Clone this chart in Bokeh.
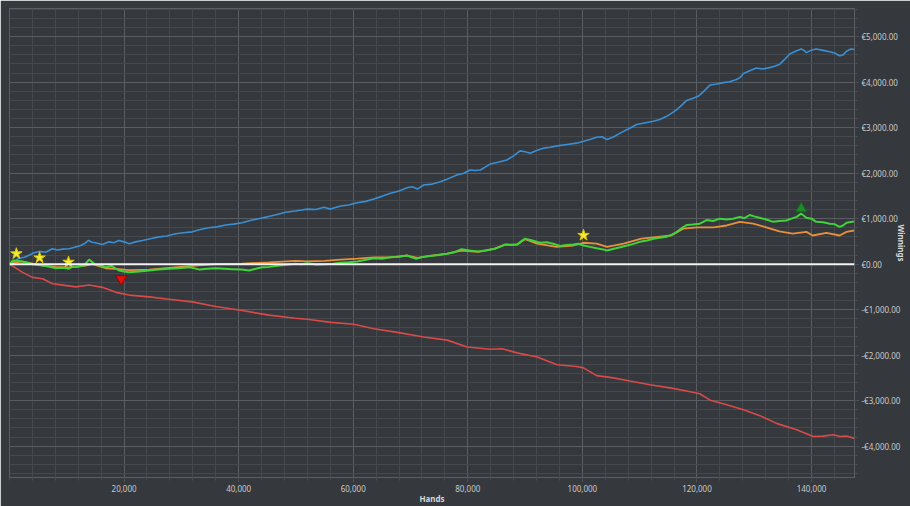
from bokeh.plotting import figure
from bokeh.models import (FixedTicker, NumeralTickFormatter, CustomJSTickFormatter,
                          Span, Range1d)
from bokeh.embed import file_html
from bokeh.resources import INLINE

# ---------------- data ----------------
blue_hands = [0, 800, 1700, 2600, 3500, 4300, 5200, 6300, 7500, 8300, 9300, 10400, 11400,
              12450, 13200, 13800, 14400, 15000, 16200, 17400, 18200, 19100, 20000, 20900,
              22000, 23200, 24600, 26100, 27500, 29000, 30400, 31900, 33300, 34800, 36200,
              37700, 39100, 40600, 42000, 43500, 45000, 46400, 48200, 49900, 51000, 52000,
              53500, 54900, 56000, 57800, 59200, 60700, 62200, 63600, 65000, 66500, 68000,
              69400, 70300, 71200, 72300, 73800, 75200, 76600, 78100, 79300, 80400, 81300,
              82200, 83900, 85300, 86800, 88000, 89100, 90000, 90900, 92000, 93200, 94400,
              95600, 97300, 99000, 100200, 101300, 102500, 103400, 104300, 105500, 106600,
              108000, 109500, 111000, 112400, 113500, 114700, 115600, 116500, 117400, 118200,
              119200, 120200, 121200, 122300, 123500, 124600, 125700, 126900, 127500, 128100,
              129200, 130400, 131500, 132700, 133500, 134400, 135300, 136200, 137200, 138200,
              138700, 139100, 139900, 140800, 142000, 143200, 144000, 144900, 145500, 146100,
              146900, 147500]
blue_won = [0, 60, 130, 150, 200, 250, 280, 260, 340, 310, 330, 340, 370,
            410, 460, 520, 480, 470, 430, 490, 470, 520, 490, 450,
            490, 520, 560, 600, 620, 670, 690, 710, 760, 800, 820,
            860, 880, 910, 960, 1000, 1040, 1080, 1140, 1170, 1190, 1210,
            1200, 1250, 1210, 1280, 1300, 1350, 1380, 1430, 1490, 1560, 1610,
            1680, 1700, 1650, 1740, 1760, 1810, 1880, 1960, 2000, 2070, 2060,
            2070, 2200, 2240, 2290, 2380, 2490, 2470, 2440, 2500, 2550, 2570,
            2600, 2630, 2660, 2700, 2740, 2790, 2800, 2740, 2800, 2880,
            2970, 3070, 3110, 3140, 3180, 3250, 3320, 3400, 3500, 3600,
            3640, 3690, 3800, 3940, 3960, 3990, 4010, 4060, 4100, 4190,
            4250, 4310, 4290, 4320, 4350, 4390, 4500, 4620, 4680, 4730,
            4700, 4650, 4700, 4730, 4700, 4670, 4640, 4580, 4600, 4680,
            4730, 4720]

red_hands = [0, 2300, 4000, 5800, 7500, 8700, 11600, 13900, 16200, 18600, 20900, 24400,
             27800, 31900, 36000, 40600, 45300, 49900, 52000, 56100, 60100, 63600, 67700,
             72300, 76400, 79900, 83900, 86000, 88600, 92100, 95600, 99000, 100200, 102500,
             105400, 108300, 111800, 115300, 118200, 120500, 122300, 125200, 128100, 131000,
             133900, 137400, 140300, 142000, 143800, 145000, 146100, 147500]
red_won = [0, -180, -290, -320, -430, -450, -500, -460, -510, -620, -680, -720,
           -770, -830, -930, -1020, -1120, -1190, -1210, -1280, -1320, -1420, -1500,
           -1600, -1670, -1820, -1870, -1860, -1950, -2040, -2210, -2250, -2280, -2450,
           -2500, -2570, -2650, -2720, -2790, -2850, -2990, -3090, -3200, -3330,
           -3500, -3640, -3790, -3780, -3750, -3790, -3780, -3830]

orange_hands = [0, 2000, 4000, 6000, 8000, 10400, 13000, 14500, 16800, 19100, 20900, 24400,
                27800, 31900, 36000, 40600, 45300, 49900, 52000, 55000, 57800, 60700, 63600,
                66500, 69400, 71200, 73400, 76400, 78900, 81800, 84700, 86500, 88600, 90000,
                92100, 95500, 98400, 100200, 102500, 104300, 107200, 110300, 113200, 115500,
                117600, 120000, 122900, 125200, 127500, 129800, 132100, 134400, 136700,
                139100, 140200, 142600, 144900, 146100, 147400]
orange_won = [0, 60, 10, -40, -60, -70, -40, 0, -90, -110, -130, -120,
              -80, -40, 0, 10, 40, 70, 60, 70, 100, 120, 150,
              150, 190, 140, 180, 230, 300, 270, 340, 430, 430, 550,
              450, 380, 410, 470, 450, 380, 450, 560, 600, 630,
              780, 810, 810, 850, 930, 890, 810, 720, 670,
              710, 630, 690, 630, 710, 740]

green_hands = [0, 600, 1500, 2300, 3200, 4000, 5800, 7000, 8100, 9200, 10400, 11100, 11800,
               13000, 13900, 14500, 15000, 16000, 16800, 17800, 18500, 19100, 20000, 20900,
               22600, 24400, 26000, 27800, 29500, 31500, 33200, 34500, 36000, 37500, 39000,
               40500, 41800, 43000, 44100, 45300, 46400, 48000, 49900, 51000, 52000, 53500,
               55000, 56500, 57800, 59200, 60700, 62000, 63600, 65000, 66500, 68000, 69400,
               70200, 71000, 72200, 73400, 75000, 76400, 77600, 78900, 80300, 81800, 83200,
               84700, 85600, 86500, 87600, 88600, 89300, 90000, 91300, 92600, 93800, 94900,
               96100, 97200, 98400, 99300, 100200, 101300, 102500, 103400, 104300, 105500,
               106600, 108500, 110300, 111300, 112400, 113500, 114700, 115600, 116500, 117400,
               118200, 119300, 120500, 121700, 122800, 124000, 125200, 126300, 127500, 128300,
               129200, 130000, 130900, 132100, 133300, 134400, 135600, 136500, 137400, 138200,
               139100, 140000, 140800, 142000, 143200, 144000, 144900, 145500, 146100, 147400]
green_won = [0, 80, 70, 60, 30, 0, -30, -60, -90, -80, -100, -50, -60,
             -30, 100, 40, -20, -30, -70, -40, -90, -140, -160, -180,
             -160, -140, -120, -100, -90, -70, -120, -100, -90, -100, -110,
             -120, -140, -100, -70, -60, -40, -20, 10, 0, 20, -10,
             0, 10, 30, 40, 60, 90, 130, 120, 150, 160, 190,
             150, 120, 160, 180, 200, 230, 260, 330, 300, 280, 300,
             340, 380, 430, 420, 430, 500, 560, 520, 470, 480, 450,
             400, 420, 430, 450, 410, 380, 350, 330, 300, 340,
             370, 430, 500, 520, 560, 580, 600, 650, 710, 800,
             860, 870, 890, 970, 950, 1000, 980, 1000, 1040, 1010,
             1080, 1050, 1020, 980, 930, 950, 960, 1000, 1040, 1110,
             1020, 1000, 930, 920, 890, 880, 820, 850, 910, 940]

star_hands = [1200, 5250, 10300, 100200]
star_won = [230, 140, 45, 635]
low_hands = [19500]
low_won = [-325]
high_hands = [138200]
high_won = [1220]

x_ticks = [20000, 40000, 60000, 80000, 100000, 120000, 140000]
x_minor = list(range(0, 148001, 4000))
y_ticks = [-4000, -3000, -2000, -1000, 0, 1000, 2000, 3000, 4000, 5000]
y_minor = list(range(-4800, 5801, 200))

# ---------------- figure ----------------
BG = "#35383c"
p = figure(width=910, height=506, output_backend="svg", toolbar_location=None,
           x_range=Range1d(0, 147500), y_range=Range1d(-4690, 5620),
           y_axis_location="right",
           background_fill_color=BG, border_fill_color=BG,
           min_border_left=9, min_border_top=8, min_border_right=0, min_border_bottom=0)
p.outline_line_color = "#5c5f63"
p.outline_line_width = 1

p.xaxis.ticker = FixedTicker(ticks=x_ticks, minor_ticks=x_minor)
p.yaxis.ticker = FixedTicker(ticks=y_ticks, minor_ticks=y_minor)
p.xaxis.formatter = NumeralTickFormatter(format="0,0")
p.yaxis.formatter = CustomJSTickFormatter(code="""
const s = Math.abs(tick).toLocaleString('en-US', {minimumFractionDigits: 2, maximumFractionDigits: 2});
return (tick < 0 ? '-' : '') + '\u20ac' + s;
""")

for ax in (p.xaxis[0], p.yaxis[0]):
    ax.axis_line_color = None
    ax.major_tick_line_color = "#5c5f63"
    ax.minor_tick_line_color = "#4a4d51"
    ax.major_tick_in = 0
    ax.minor_tick_in = 0
    ax.major_tick_out = 4
    ax.minor_tick_out = 3
    ax.major_label_text_color = "#c9cacc"
    ax.major_label_text_font = "Noto Sans"
    ax.major_label_text_font_size = "8px"
    ax.major_label_standoff = 3
    ax.axis_label_text_color = "#d6d7d9"
    ax.axis_label_text_font = "Noto Sans"
    ax.axis_label_text_font_size = "8px"
    ax.axis_label_text_font_style = "bold"

p.xaxis.axis_label = "Hands"
p.xaxis.axis_label_standoff = -2
p.yaxis.axis_label = "Winnings"
p.yaxis.axis_label_standoff = -7

p.xgrid.grid_line_color = "#5a5d61"
p.ygrid.grid_line_color = "#5a5d61"
p.xgrid.minor_grid_line_color = "#45484c"
p.ygrid.minor_grid_line_color = "#45484c"

p.add_layout(Span(location=0, dimension="width", line_color="#f2f2f2", line_width=2))

p.line(blue_hands, blue_won, line_color="#3a8fd4", line_width=1.6)
p.line(red_hands, red_won, line_color="#d94a4a", line_width=1.6)
p.line(orange_hands, orange_won, line_color="#e8903a", line_width=1.8)
p.line(green_hands, green_won, line_color="#3fd43a", line_width=2)

p.scatter(star_hands, star_won, marker="star", size=12,
          fill_color="#f4ea3c", line_color="#d8c800", line_width=1)
p.scatter(low_hands, low_won, marker="inverted_triangle", size=11,
          fill_color="#e01010", line_color="#a00000", line_width=1)
p.scatter(high_hands, high_won, marker="triangle", size=11,
          fill_color="#1e8a28", line_color="#146a1c", line_width=1)

open("out.html", "w").write(file_html(p, INLINE))
